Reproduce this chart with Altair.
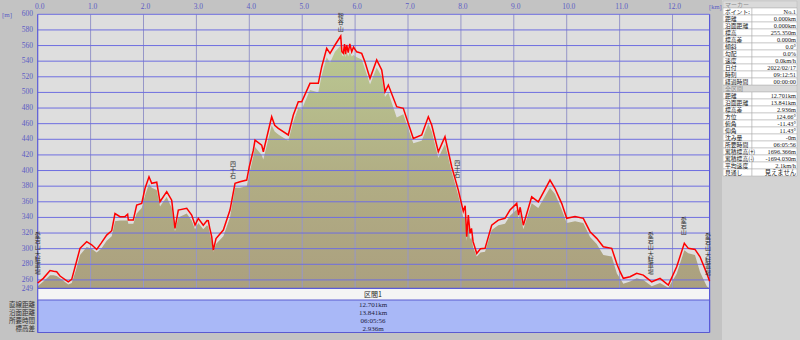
import altair as alt
import pandas as pd

# ---------------- data ----------------
dist_km = [0.000, 0.106, 0.233, 0.300, 0.359, 0.422, 0.578, 0.643, 0.720, 0.800,
           0.926, 1.020, 1.115, 1.200, 1.304, 1.399, 1.461, 1.556, 1.650, 1.700,
           1.713, 1.807, 1.871, 1.966, 2.028, 2.104, 2.155, 2.250, 2.312, 2.439,
           2.533, 2.595, 2.658, 2.817, 2.911, 2.974, 3.036, 3.130, 3.200, 3.225,
           3.250, 3.289, 3.320, 3.371, 3.509, 3.635, 3.730, 3.824, 3.951, 4.000,
           4.076, 4.108, 4.234, 4.265, 4.423, 4.480, 4.548, 4.737, 4.832, 4.926,
           4.991, 5.147, 5.304, 5.369, 5.463, 5.526, 5.620, 5.728, 5.750, 5.777,
           5.800, 5.820, 5.841, 5.870, 5.900, 5.936, 5.970, 6.030, 6.125, 6.187,
           6.282, 6.408, 6.503, 6.565, 6.628, 6.786, 6.911, 7.100, 7.259, 7.384,
           7.448, 7.573, 7.699, 7.826, 7.951, 8.045, 8.080, 8.110, 8.140, 8.172,
           8.200, 8.230, 8.299, 8.370, 8.456, 8.582, 8.707, 8.833, 8.928, 9.055,
           9.090, 9.120, 9.180, 9.338, 9.463, 9.684, 9.779, 9.905, 10.000, 10.157,
           10.314, 10.441, 10.567, 10.692, 10.851, 10.950, 11.008, 11.070, 11.197, 11.323,
           11.448, 11.607, 11.764, 11.921, 12.079, 12.223, 12.299, 12.425, 12.520, 12.647,
           12.701]
elev_m = [256, 262, 272, 271, 270.5, 265, 257.6, 260.7, 280, 300.4,
          309, 305, 299, 307, 317.4, 323, 345, 341, 341, 344,
          336.6, 336.6, 355.8, 358, 377, 392, 383.6, 385, 360, 373,
          362, 326, 349.4, 351.6, 343, 330.2, 338.8, 330, 336, 335.7,
          327, 315.3, 298.2, 313, 323.8, 349.4, 383.6, 385.7, 387.8, 404.9,
          426, 439, 432.6, 424, 468.9, 458, 454, 445.5, 471, 488,
          488, 511.6, 511.6, 532.9, 556.5, 550, 560.7, 572.2, 552, 550,
          562, 549, 560.7, 551, 562, 552, 558, 552, 550, 539,
          518, 541.5, 528.7, 500.9, 509.5, 481.7, 479.6, 441, 445.5, 468.9,
          458.3, 424, 443.3, 404.9, 375, 348, 355, 315.3, 343, 319.6,
          326, 309, 294, 300, 300.4, 330, 336.6, 338.8, 349.4, 358,
          343, 353, 330, 366.4, 360, 387.8, 377, 358, 338.8, 341,
          338.8, 321.7, 313.2, 302.4, 300.4, 280, 270.5, 262, 264, 268.4,
          266.2, 257.6, 262, 253.4, 276.9, 306.8, 300.4, 299, 289.6, 268.4,
          258.3]
ground_m = [252, 258, 266, 266, 265, 262, 254, 256, 272, 292,
            302, 300, 295, 300, 310, 316, 335, 336, 336, 336,
            332, 332, 345, 352, 368, 383, 378, 375, 354, 366,
            352, 322, 340, 345, 336, 325, 333, 325, 330, 328,
            320, 310, 296, 306, 316, 340, 378, 378, 380, 396,
            418, 430, 420, 414, 458, 450, 446, 438, 462, 480,
            478, 503, 500, 522, 545, 538, 552, 560, 548, 546,
            553, 545, 552, 546, 552, 546, 548, 545, 542, 530,
            510, 532, 520, 494, 500, 468, 472, 435, 438, 460,
            450, 416, 434, 398, 368, 340, 340, 310, 330, 312,
            315, 302, 290, 295, 296, 324, 330, 332, 342, 350,
            338, 345, 325, 358, 352, 378, 370, 350, 333, 335,
            333, 315, 306, 292, 290, 268, 262, 255, 258, 262,
            260, 252, 256, 250, 268, 298, 294, 292, 270, 252,
            249]

x_ticks = [0, 1, 2, 3, 4, 5, 6, 7, 8, 9, 10, 11, 12]
x_tick_labels = ["0.0", "1.0", "2.0", "3.0", "4.0", "5.0", "6.0", "7.0",
                 "8.0", "9.0", "10.0", "11.0", "12.0"]
y_ticks = [249, 260, 280, 300, 320, 340, 360, 380, 400, 420, 440, 460,
           480, 500, 520, 540, 560, 580, 600]
grid_y = [260, 280, 300, 320, 340, 360, 380, 400, 420, 440, 460,
          480, 500, 520, 540, 560, 580, 600]
grid_x = [1, 2, 3, 4, 5, 6, 7, 8, 9, 10, 11, 12]

waypoint_names = ["愛宕山大駐車場", "四十石", "鞍谷山", "四十石",
                  "愛宕山大駐車場", "愛宕山", "愛宕山大駐車場"]
waypoint_km = [0.0, 3.69, 5.73, 7.93, 11.59, 12.21, 12.67]
waypoint_label_top_m = [321.3, 412.2, 601.5, 413.4, 321.3, 340.5, 320.0]

marker_title = "マーカー"
marker_labels = ["ポイント:", "距離", "沿面距離", "標高", "標高差", "傾斜", "勾配",
                 "速度", "日付", "時刻", "経過時間"]
marker_values = ["No.1", "0.000km", "0.000km", "255.350m", "0.000m", "0.0°",
                 "0.0%", "0.0km/h", "2022/02/17", "09:12:51", "00:00:00"]
total_title = "全区間"
total_labels = ["距離", "沿面距離", "標高差", "方位", "俯角", "仰角", "沈み量",
                "所要時間", "累積標高(+)", "累積標高(-)", "平均速度", "見通し"]
total_values = ["12.701km", "13.841km", "2.936m", "124.66°", "-11.43°", "11.43°",
                "-0m", "06:05:56", "1696.366m", "-1694.030m", "2.1km/h", "見えません"]

section_name = "区間1"
section_labels = ["直線距離", "沿面距離", "所要時間", "標高差"]
section_values = ["12.701km", "13.841km", "06:05:56", "2.936m"]

# ---------------- styling ----------------
JP = "Noto Sans CJK JP"
NUM = "'Liberation Serif', 'Noto Sans CJK JP'"
X_END = dist_km[-1]
XS = alt.Scale(domain=[0, X_END], range=[37.7, 709.6], nice=False, zero=False)
YS = alt.Scale(domain=[249, 600], range=[288.5, 14.3], nice=False, zero=False)
one = pd.DataFrame({"a": [0]})


def box(x0, x1, y0, y1, fill, stroke=None, sw=0):
    kw = dict(color=fill)
    if stroke:
        kw = dict(fill=fill, stroke=stroke, strokeWidth=sw)
    return alt.Chart(one).mark_rect(**kw).encode(
        x=alt.value(x0), x2=alt.value(x1), y=alt.value(y0), y2=alt.value(y1))


layers = []
# backgrounds
layers.append(box(0, 800, 0, 340, "#c3c3c3"))
layers.append(box(722, 800, 0, 340, "#d3d3d3"))

plot_bg = pd.DataFrame({"x0": [0], "x1": [X_END], "y0": [249], "y1": [600]})
layers.append(alt.Chart(plot_bg).mark_rect(color="#dedede").encode(
    x=alt.X("x0:Q", scale=XS, axis=None), x2="x1",
    y=alt.Y("y0:Q", scale=YS, axis=None), y2="y1"))

prof = pd.DataFrame({"km": dist_km, "elev": elev_m, "ground": ground_m})
grad = alt.Gradient(gradient="linear",
                    stops=[alt.GradientStop(color="#aba07f", offset=0),
                           alt.GradientStop(color="#b1ad84", offset=0.45),
                           alt.GradientStop(color="#bac892", offset=1)],
                    x1=1, x2=1, y1=1, y2=0)
layers.append(alt.Chart(prof).mark_area(color=grad).encode(
    x=alt.X("km:Q", scale=XS, axis=None),
    y=alt.Y("ground:Q", scale=YS, axis=None),
    y2=alt.datum(249)))

# grid
gy = pd.DataFrame({"elev": grid_y, "x0": [0] * len(grid_y), "x1": [X_END] * len(grid_y)})
gx = pd.DataFrame({"km": grid_x, "y0": [249] * len(grid_x), "y1": [600] * len(grid_x)})
layers.append(alt.Chart(gx).mark_rule(color="#9696c8", strokeWidth=1).encode(
    x=alt.X("km:Q", scale=XS, axis=None),
    y=alt.Y("y0:Q", scale=YS, axis=None), y2="y1"))
layers.append(alt.Chart(gy).mark_rule(color="#6e6ee0", strokeWidth=1).encode(
    x=alt.X("x0:Q", scale=XS, axis=None), x2="x1",
    y=alt.Y("elev:Q", scale=YS, axis=None)))
base_df = pd.DataFrame({"elev": [249], "x0": [0], "x1": [X_END]})
layers.append(alt.Chart(base_df).mark_rule(color="#5a5ad8", strokeWidth=1.5).encode(
    x=alt.X("x0:Q", scale=XS, axis=None), x2="x1",
    y=alt.Y("elev:Q", scale=YS, axis=None)))

# bottom section panel
layers.append(box(37.7, 709.6, 289, 300, "#f4f4f4"))
layers.append(box(37.7, 709.6, 300, 332.5, "#a9b8f7", "#5a5ad0", 1))

# plot borders (left / right), running through the bottom panel
edges = pd.DataFrame({"km": [0, X_END]})
layers.append(alt.Chart(edges).mark_rule(color="#5a5ad8", strokeWidth=1.2).encode(
    x=alt.X("km:Q", scale=XS, axis=None), y=alt.value(14.3), y2=alt.value(332.5)))

# elevation line
layers.append(alt.Chart(prof).mark_line(color="#ff0000", strokeWidth=1.5).encode(
    x=alt.X("km:Q", scale=XS, axis=None),
    y=alt.Y("elev:Q", scale=YS, axis=None)))

# axis labels
xl = pd.DataFrame({"km": x_ticks, "t": x_tick_labels})
layers.append(alt.Chart(xl).mark_text(font=NUM, fontSize=7.5, color="#5c5cc4",
                                      align="center", baseline="middle", dx=2).encode(
    x=alt.X("km:Q", scale=XS, axis=None), y=alt.value(6.5), text="t:N"))
yl = pd.DataFrame({"elev": y_ticks, "t": [str(v) for v in y_ticks]})
layers.append(alt.Chart(yl).mark_text(font=NUM, fontSize=7.5, color="#5c5cc4",
                                      align="right", baseline="middle").encode(
    x=alt.value(33), y=alt.Y("elev:Q", scale=YS, axis=None), text="t:N"))
layers.append(alt.Chart(pd.DataFrame({"t": ["[m]"]})).mark_text(
    font=NUM, fontSize=7, color="#5c5cc4", align="left", baseline="middle").encode(
    x=alt.value(2), y=alt.value(15), text="t:N"))
layers.append(alt.Chart(pd.DataFrame({"t": ["[km]"]})).mark_text(
    font=NUM, fontSize=6.5, color="#5c5cc4", align="left", baseline="middle").encode(
    x=alt.value(709), y=alt.value(6.5), text="t:N"))

# waypoint labels (vertical writing)
wp = pd.DataFrame({"km": waypoint_km, "elev": waypoint_label_top_m,
                   "t": ["\n".join(n) for n in waypoint_names]})
layers.append(alt.Chart(wp).mark_text(font=JP, fontSize=6, lineHeight=6.2,
                                      lineBreak="\n", color="#303030",
                                      align="center", baseline="top").encode(
    x=alt.X("km:Q", scale=XS, axis=None),
    y=alt.Y("elev:Q", scale=YS, axis=None), text="t:N"))

# bottom table texts
layers.append(alt.Chart(pd.DataFrame({"t": [section_name]})).mark_text(
    font=JP, fontSize=7, color="#202020", align="center", baseline="middle").encode(
    x=alt.value(373), y=alt.value(294.5), text="t:N"))
sec = pd.DataFrame({"row": list(range(len(section_labels))),
                    "label": section_labels, "value": section_values})
RB = alt.Scale(domain=[0, 3], range=[304.5, 328.5], nice=False, zero=False)
layers.append(alt.Chart(sec).mark_text(font=JP, fontSize=6.5, color="#303030",
                                       align="right", baseline="middle").encode(
    x=alt.value(35), y=alt.Y("row:Q", scale=RB, axis=None), text="label:N"))
layers.append(alt.Chart(sec).mark_text(font=NUM, fontSize=7, color="#202040",
                                       align="center", baseline="middle").encode(
    x=alt.value(373), y=alt.Y("row:Q", scale=RB, axis=None), text="value:N"))

# right info tables
rows = [{"row": 0, "label": marker_title, "value": "", "head": 1}]
for i, (l, v) in enumerate(zip(marker_labels, marker_values)):
    rows.append({"row": 1 + i, "label": l, "value": v, "head": 0})
n1 = len(rows)
rows.append({"row": n1, "label": total_title, "value": "", "head": 1})
for i, (l, v) in enumerate(zip(total_labels, total_values)):
    rows.append({"row": n1 + 1 + i, "label": l, "value": v, "head": 0})
tab = pd.DataFrame(rows)
tab["r0"] = tab["row"] - 0.5
tab["r1"] = tab["row"] + 0.5
nrows = int(tab["row"].max())
RS = alt.Scale(domain=[0, nrows], range=[4.5, 4.5 + 7 * nrows], nice=False, zero=False)
heads = tab[tab["head"] == 1]
body = tab[tab["head"] == 0]
layers.append(alt.Chart(heads).mark_rect(fill="#dadada", stroke="#b8b8b8", strokeWidth=0.5).encode(
    x=alt.value(723), x2=alt.value(797),
    y=alt.Y("r0:Q", scale=RS, axis=None), y2="r1"))
layers.append(alt.Chart(body).mark_rect(fill="#ffffff", stroke="#a8a8a8", strokeWidth=0.5).encode(
    x=alt.value(723), x2=alt.value(752),
    y=alt.Y("r0:Q", scale=RS, axis=None), y2="r1"))
layers.append(alt.Chart(body).mark_rect(fill="#ffffff", stroke="#a8a8a8", strokeWidth=0.5).encode(
    x=alt.value(752), x2=alt.value(797),
    y=alt.Y("r0:Q", scale=RS, axis=None), y2="r1"))
layers.append(alt.Chart(heads).mark_text(font=JP, fontSize=6, color="#8a8a8a",
                                         align="left", baseline="middle").encode(
    x=alt.value(725), y=alt.Y("row:Q", scale=RS, axis=None), text="label:N"))
layers.append(alt.Chart(body).mark_text(font=JP, fontSize=5.8, color="#202020",
                                        align="left", baseline="middle").encode(
    x=alt.value(725), y=alt.Y("row:Q", scale=RS, axis=None), text="label:N"))
layers.append(alt.Chart(body).mark_text(font=NUM, fontSize=6.3, color="#202020",
                                        align="right", baseline="middle").encode(
    x=alt.value(796), y=alt.Y("row:Q", scale=RS, axis=None), text="value:N"))

chart = alt.layer(*layers).resolve_scale(x="independent", y="independent").properties(
    width=800, height=340, autosize="none", padding=0, background="#c3c3c3"
).configure_view(stroke=None)

chart.save("out.html", embed_options={"renderer": "svg", "actions": False})
